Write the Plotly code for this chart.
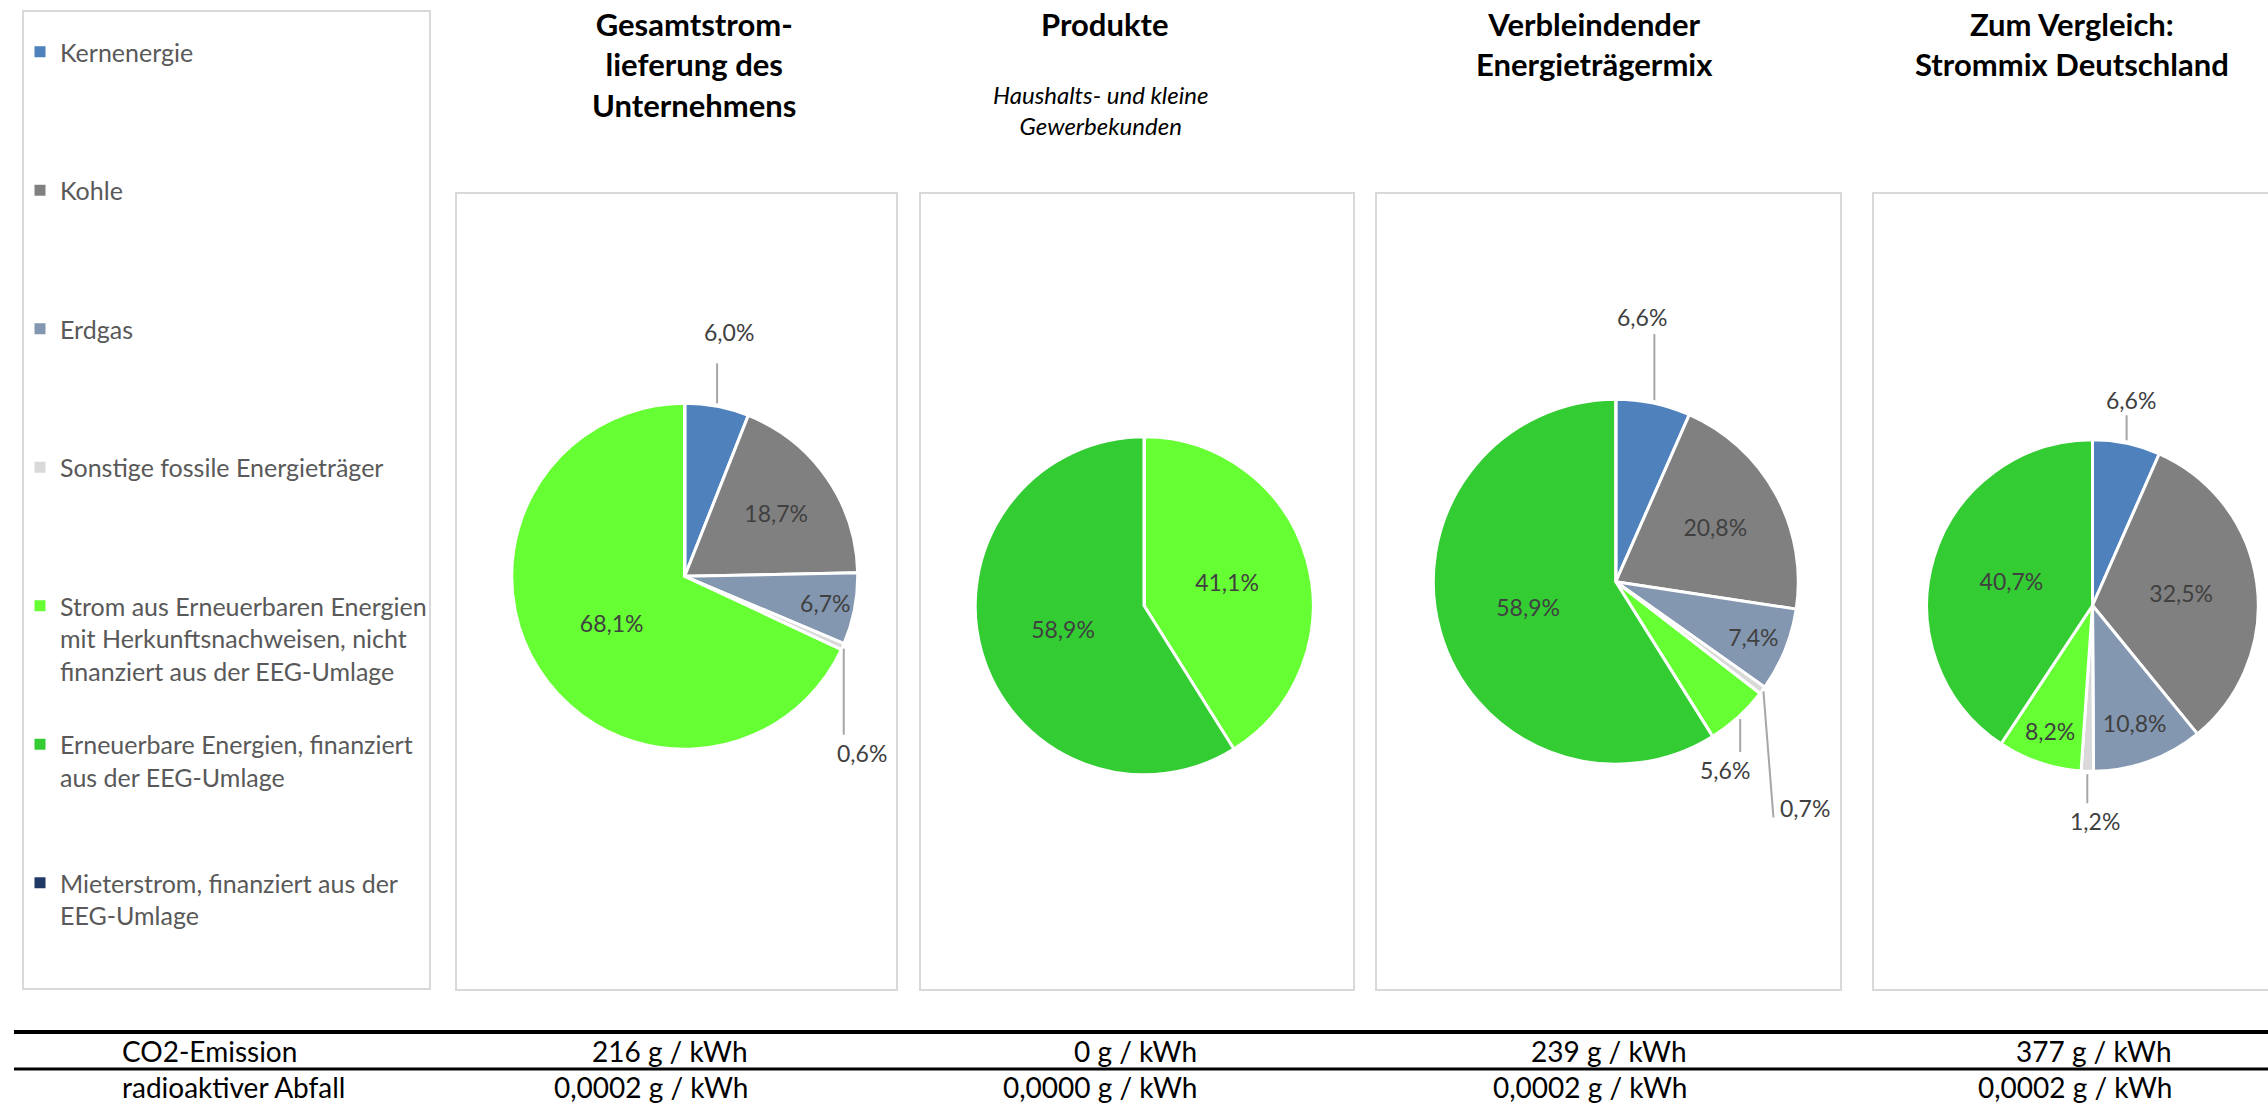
import math
import plotly.graph_objects as go

W, H = 2268, 1106
FONT = "Lato"

# ---------------- data ----------------
categories = [
    "Kernenergie",
    "Kohle",
    "Erdgas",
    "Sonstige fossile Energieträger",
    "Strom aus Erneuerbaren Energien mit Herkunftsnachweisen, nicht finanziert aus der EEG-Umlage",
    "Erneuerbare Energien, finanziert aus der EEG-Umlage",
    "Mieterstrom, finanziert aus der EEG-Umlage",
]
legend_labels = [
    "Kernenergie",
    "Kohle",
    "Erdgas",
    "Sonstige fossile Energieträger",
    "Strom aus Erneuerbaren Energien<br>mit Herkunftsnachweisen, nicht<br>finanziert aus der EEG-Umlage",
    "Erneuerbare Energien, finanziert<br>aus der EEG-Umlage",
    "Mieterstrom, finanziert aus der<br>EEG-Umlage",
]
gesamt = [6.0, 18.7, 6.7, 0.6, 68.1, 0.0, 0.0]
produkte = [0.0, 0.0, 0.0, 0.0, 41.1, 58.9, 0.0]
verbleibend = [6.6, 20.8, 7.4, 0.7, 5.6, 58.9, 0.0]
deutschland = [6.6, 32.5, 10.8, 1.2, 8.2, 40.7, 0.0]

titles = [
    "Gesamtstrom-<br>lieferung des<br>Unternehmens",
    "Produkte",
    "Verbleindender<br>Energieträgermix",
    "Zum Vergleich:<br>Strommix Deutschland",
]
subtitle = "Haushalts- und kleine<br>Gewerbekunden"

row_labels = ["CO2-Emission", "radioaktiver Abfall"]
co2 = [216, 0, 239, 377]
waste = [0.0002, 0.0000, 0.0002, 0.0002]

# ---------------- style / layout ----------------
colors = ["#4F81BD", "#808080", "#8497B0", "#D9D9D9", "#66FF33", "#33CC33", "#203864"]
series = [gesamt, produkte, verbleibend, deutschland]
pie_geom = [
    dict(cx=684.7, cy=576.3, r=173.0),
    dict(cx=1144.2, cy=605.8, r=169.0),
    dict(cx=1615.8, cy=581.7, r=182.5),
    dict(cx=2092.5, cy=605.5, r=165.8),
]
# outside labels: (pie, category) -> line start offset, line end offset, label offset (px from slice edge)
outside = {
    (0, 0): ((0, -3), (0, -43), (12, -74)),
    (0, 3): ((1, 2), (1, 88), (19, 106)),
    (2, 0): ((1, -3), (1, -69), (-11, -86)),
    (2, 3): ((1, 1), (11, 127), (43, 118)),
    (2, 4): ((2, 2), (2, 35), (-13, 53)),
    (3, 0): ((0, -3), (0, -28), (4, -43)),
    (3, 3): ((0, 3), (0, 32), (8, 50)),
}
panel_boxes = [(23, 11, 430, 989), (456, 193, 897, 990), (920, 193, 1354, 990),
               (1376, 193, 1841, 990), (1873, 193, 2290, 990)]
title_x = [694, 1104, 1594, 2072]
value_right_x = [750, 1199, 1689, 2174]
LABEL_SIZE = 23


def px(x):
    return x / W


def py(y):
    return 1 - y / H


def fmt_pct(v):
    return f"{v:.1f}".replace(".", ",") + "%"


fig = go.Figure()

for k, (vals, g) in enumerate(zip(series, pie_geom)):
    texts = []
    for i, v in enumerate(vals):
        texts.append(fmt_pct(v) if v > 0 and (k, i) not in outside else "")
    fig.add_trace(go.Pie(
        values=vals, labels=categories, text=texts, textinfo="text",
        textposition="inside", insidetextorientation="horizontal",
        sort=False, direction="clockwise", rotation=0,
        marker=dict(colors=colors, line=dict(color="white", width=3)),
        textfont=dict(family=FONT, size=LABEL_SIZE, color="#404040"),
        domain=dict(x=[px(g["cx"] - g["r"]), px(g["cx"] + g["r"])],
                    y=[py(g["cy"] + g["r"]), py(g["cy"] - g["r"])]),
        showlegend=False, hoverinfo="label+value",
    ))

# legend entries
for i, lab in enumerate(legend_labels):
    nl = lab.count("<br>") + 1
    padded = lab + "<br>\u00a0" * (3 - nl)
    fig.add_trace(go.Scatter(
        x=[None], y=[None], mode="markers", name=padded, legendgroup=f"g{i}",
        marker=dict(symbol="square", size=11, color=colors[i]), hoverinfo="skip",
    ))

shapes = []
for (x0, y0, x1, y1) in panel_boxes:
    shapes.append(dict(type="rect", xref="paper", yref="paper", x0=px(x0), x1=px(x1),
                       y0=py(y1), y1=py(y0), line=dict(color="#D9D9D9", width=2), layer="below"))

annotations = []
# outside labels with leader lines
for (k, i), (ls, le, lo) in outside.items():
    vals = series[k]
    g = pie_geom[k]
    total = sum(vals)
    th = 2 * math.pi * (sum(vals[:i]) + vals[i] / 2) / total
    ex = g["cx"] + g["r"] * math.sin(th)
    ey = g["cy"] - g["r"] * math.cos(th)
    shapes.append(dict(type="line", xref="paper", yref="paper",
                       x0=px(ex + ls[0]), y0=py(ey + ls[1]), x1=px(ex + le[0]), y1=py(ey + le[1]),
                       line=dict(color="#A6A6A6", width=2)))
    annotations.append(dict(xref="paper", yref="paper", x=px(ex + lo[0]), y=py(ey + lo[1]),
                            text=fmt_pct(vals[i]), showarrow=False, xanchor="center", yanchor="middle",
                            font=dict(family=FONT, size=LABEL_SIZE, color="#404040")))

# titles
for t, x in zip(titles, title_x):
    annotations.append(dict(xref="paper", yref="paper", x=px(x), y=py(3), text=f"<b>{t}</b>",
                            showarrow=False, xanchor="center", yanchor="top", align="center",
                            font=dict(family=FONT, size=31, color="#000000")))
annotations.append(dict(xref="paper", yref="paper", x=px(1100), y=py(78), text=f"<i>{subtitle}</i>",
                        showarrow=False, xanchor="center", yanchor="top", align="center",
                        font=dict(family=FONT, size=24, color="#000000")))

# table
shapes.append(dict(type="line", xref="paper", yref="paper", x0=px(14), x1=1, y0=py(1032), y1=py(1032),
                   line=dict(color="#000000", width=4)))
shapes.append(dict(type="line", xref="paper", yref="paper", x0=px(14), x1=1, y0=py(1069), y1=py(1069),
                   line=dict(color="#000000", width=3)))
row_y = [1051, 1087]
row_vals = [[f"{v} g / kWh" for v in co2],
            [f"{v:.4f}".replace(".", ",") + " g / kWh" for v in waste]]
for r, (lab, yy) in enumerate(zip(row_labels, row_y)):
    annotations.append(dict(xref="paper", yref="paper", x=px(120), y=py(yy), text=lab, showarrow=False,
                            xanchor="left", yanchor="middle", font=dict(family=FONT, size=28, color="#000000")))
    for txt, xr in zip(row_vals[r], value_right_x):
        annotations.append(dict(xref="paper", yref="paper", x=px(xr), y=py(yy), text=txt, showarrow=False,
                                xanchor="right", yanchor="middle",
                                font=dict(family=FONT, size=28, color="#000000")))

fig.update_layout(
    width=W, height=H, margin=dict(l=0, r=0, t=0, b=0),
    paper_bgcolor="white", plot_bgcolor="white",
    xaxis=dict(visible=False, range=[0, 1], fixedrange=True),
    yaxis=dict(visible=False, range=[0, 1], fixedrange=True),
    uniformtext=dict(mode="show", minsize=LABEL_SIZE),
    legend=dict(x=px(20), y=py(29), xanchor="left", yanchor="top", tracegroupgap=38, valign="top",
                font=dict(family=FONT, size=25, color="#595959"), bgcolor="rgba(0,0,0,0)",
                itemclick=False, itemdoubleclick=False),
    shapes=shapes, annotations=annotations, showlegend=True,
)

fig.write_html(
    "out.html",
    config={"displayModeBar": False},
    post_script="document.body.style.margin='0px';document.body.style.overflow='hidden';",
)
